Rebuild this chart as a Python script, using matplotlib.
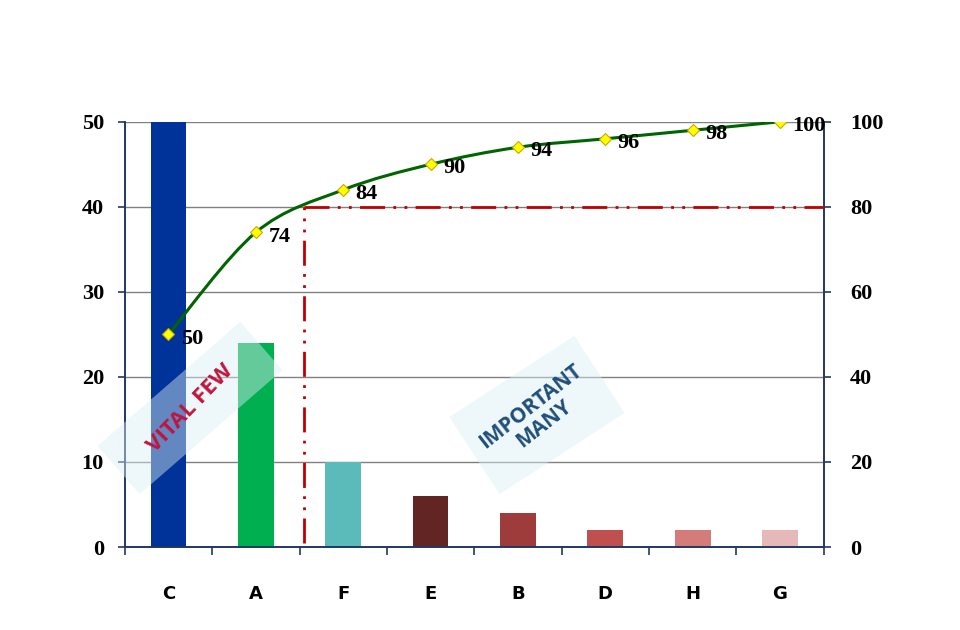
import numpy as np
import matplotlib
matplotlib.use("Agg")
import matplotlib.pyplot as plt
from matplotlib.path import Path
from matplotlib.patches import PathPatch, Rectangle
from matplotlib import transforms

# data
categories = ['C', 'A', 'F', 'E', 'B', 'D', 'H', 'G']
counts = [50, 24, 10, 6, 4, 2, 2, 2]
cumulative = [50, 74, 84, 90, 94, 96, 98, 100]
bar_colors = ['#003399', '#00B050', '#5BBABA', '#632523',
              '#9E3B3B', '#C0504D', '#D47C7A', '#E6B9B8']
cutoff = 80
cutoff_x = 1.55

num_font = 'Liberation Serif'
cat_font = ['Liberation Sans Narrow', 'DejaVu Sans']
axis_col = '#1F3864'

fig = plt.figure(figsize=(9.6, 6.3), dpi=100)
ax = fig.add_axes([0.130, 0.1317, 0.728, 0.675])
ax2 = ax.twinx()

x = np.arange(len(categories))
ax.bar(x, counts, width=0.41, color=bar_colors, zorder=2)
ax.set_xlim(-0.5, len(categories) - 0.5)
ax.set_ylim(0, 50)
ax2.set_ylim(0, 100)
ax.set_yticks([0, 10, 20, 30, 40, 50])
ax2.set_yticks([0, 20, 40, 60, 80, 100])
ax.grid(axis='y', color='#808080', lw=1, zorder=0)
ax.set_axisbelow(True)

# category ticks between slots
ax.set_xticks(np.arange(-0.5, len(categories), 1.0))
ax.set_xticklabels([])
ax.set_xticks(x, minor=True)
ax.set_xticklabels(categories, minor=True, fontsize=13, fontweight='bold',
                   family=cat_font)
ax.tick_params(axis='x', which='major', direction='out', length=6, width=1.2,
               color=axis_col)
ax.tick_params(axis='x', which='minor', length=0, pad=27)
ax.tick_params(axis='y', direction='out', length=5, width=1.2, color=axis_col, pad=10)
ax2.tick_params(axis='y', direction='out', length=5, width=1.2, color=axis_col, pad=14)
for lab in ax.get_yticklabels() + ax2.get_yticklabels():
    lab.set_fontfamily(num_font)
    lab.set_fontweight('bold')
    lab.set_fontsize(16)

for a in (ax, ax2):
    a.spines['top'].set_visible(False)
    for s in ('left', 'right', 'bottom'):
        a.spines[s].set_color(axis_col)
        a.spines[s].set_linewidth(1.2)

# smoothed cumulative line (Catmull-Rom as cubic Bezier)
pts = np.column_stack([x, cumulative]).astype(float)
verts = [pts[0]]
codes = [Path.MOVETO]
for i in range(len(pts) - 1):
    p0 = pts[i - 1] if i > 0 else pts[i]
    p1, p2 = pts[i], pts[i + 1]
    p3 = pts[i + 2] if i + 2 < len(pts) else pts[i + 1]
    c1 = p1 + (p2 - p0) / 6.0
    c2 = p2 - (p3 - p1) / 6.0
    verts += [c1, c2, p2]
    codes += [Path.CURVE4] * 3
ax2.add_patch(PathPatch(Path(verts, codes), fill=False, ec='#006400', lw=2.2, zorder=4))
ax2.plot(x, cumulative, ls='none', marker='D', ms=6, mfc='#FFFF00', mec='#C9A800',
         mew=0.8, zorder=5)
for xi, yi in zip(x, cumulative):
    ax2.annotate(str(yi), (xi, yi), xytext=(9, -3), textcoords='offset points',
                 ha='left', va='center', fontsize=16, fontweight='bold',
                 family=num_font, zorder=6)

# 80% cutoff line
dash = (0, (9, 3, 1, 3, 1, 3))
ax2.plot([cutoff_x, cutoff_x], [1, cutoff], color='#C00000', lw=2, ls=dash, zorder=3)
ax2.plot([cutoff_x, len(categories) - 0.5], [cutoff, cutoff], color='#C00000', lw=2,
         ls=dash, zorder=3)

# rotated annotation boxes (pixel coords)
px = transforms.Affine2D().scale(1 / 960, 1 / 630) + fig.transFigure

def label_box(cx, cy, w, h, ang, text, color, size):
    r = Rectangle((cx - w / 2, cy - h / 2), w, h, angle=ang, rotation_point='center',
                  transform=px, facecolor='#DAEEF3', alpha=0.45, edgecolor='none',
                  zorder=10)
    fig.add_artist(r)
    fig.text(cx / 960, cy / 630, text, rotation=ang + 5, ha='center', va='center',
             rotation_mode='anchor', color=color, fontsize=size, fontweight='bold',
             family='Open Sans', linespacing=1.05, zorder=11)

label_box(190, 222, 189, 64, 41, 'VITAL FEW', '#C0143C', 16)
label_box(537, 215, 149, 92, 33, 'IMPORTANT\nMANY', '#1F4E79', 15)

fig.savefig('out.png', dpi=100)
